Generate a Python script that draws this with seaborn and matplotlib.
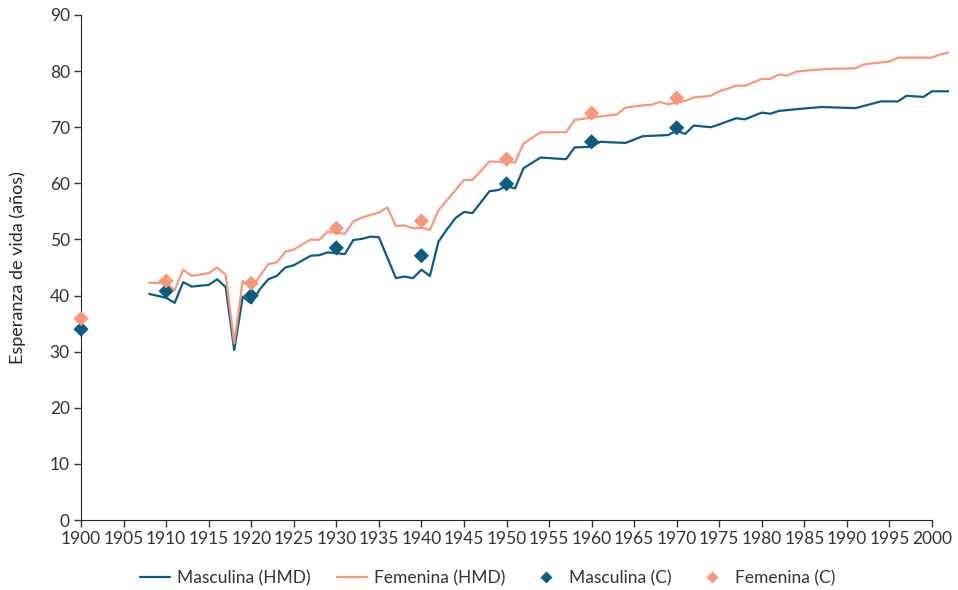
import pandas as pd
import matplotlib.pyplot as plt
import seaborn as sns

# HMD series (years where the line changes direction)
male_years = [1908, 1910, 1911, 1912, 1913, 1915, 1916, 1917, 1918, 1919, 1920, 1921,
              1922, 1923, 1924, 1925, 1927, 1928, 1929, 1931, 1932, 1933, 1934, 1935,
              1937, 1938, 1939, 1940, 1941, 1942, 1943, 1944, 1945, 1946, 1948, 1949,
              1950, 1951, 1952, 1954, 1957, 1958, 1960, 1961, 1964, 1966, 1969, 1970,
              1971, 1972, 1974, 1975, 1977, 1978, 1980, 1981, 1982, 1984, 1987, 1991,
              1994, 1996, 1997, 1999, 2000, 2002]
male_vals = [40.3, 39.6, 38.7, 42.4, 41.6, 41.9, 42.9, 41.5, 30.3, 39.8, 38.6, 41.1,
             42.9, 43.5, 45.0, 45.4, 47.1, 47.2, 47.7, 47.4, 49.9, 50.1, 50.5, 50.4,
             43.1, 43.4, 43.1, 44.6, 43.5, 49.6, 51.8, 53.8, 54.9, 54.7, 58.6, 58.8,
             59.5, 59.1, 62.7, 64.6, 64.3, 66.4, 66.5, 67.4, 67.2, 68.4, 68.6, 69.4,
             68.8, 70.3, 70.0, 70.5, 71.6, 71.4, 72.6, 72.4, 72.9, 73.2, 73.6, 73.4,
             74.6, 74.6, 75.6, 75.4, 76.4, 76.4]

female_years = [1908, 1910, 1911, 1912, 1913, 1915, 1916, 1917, 1918, 1919, 1920, 1922,
                1923, 1924, 1925, 1927, 1928, 1929, 1930, 1931, 1932, 1933, 1935, 1936,
                1937, 1938, 1939, 1940, 1941, 1942, 1945, 1946, 1948, 1951, 1952, 1954,
                1957, 1958, 1959, 1961, 1963, 1964, 1966, 1967, 1968, 1969, 1970, 1971,
                1972, 1974, 1975, 1977, 1978, 1980, 1981, 1982, 1983, 1984, 1986, 1988,
                1991, 1992, 1995, 1996, 2000, 2001, 2002]
female_vals = [42.3, 42.2, 41.0, 44.6, 43.5, 44.0, 45.0, 43.7, 31.5, 42.6, 41.3, 45.6,
               45.9, 47.8, 48.2, 50.0, 49.9, 51.4, 51.2, 51.0, 53.2, 53.9, 54.8, 55.7,
               52.4, 52.5, 52.0, 52.1, 51.7, 55.2, 60.6, 60.6, 63.9, 63.7, 67.1, 69.1,
               69.1, 71.3, 71.5, 71.9, 72.3, 73.5, 73.9, 74.0, 74.5, 74.1, 74.4, 74.7,
               75.3, 75.6, 76.4, 77.4, 77.4, 78.6, 78.6, 79.4, 79.2, 79.9, 80.2, 80.4,
               80.5, 81.2, 81.7, 82.4, 82.4, 83.0, 83.3]

# census-based estimates (C)
census_years = [1900, 1910, 1920, 1930, 1940, 1950, 1960, 1970]
census_male = [34.0, 40.8, 40.0, 48.5, 47.1, 59.9, 67.4, 69.9]
census_female = [35.9, 42.6, 42.2, 52.0, 53.3, 64.3, 72.5, 75.2]

x_ticks = list(range(1900, 2001, 5))
y_ticks = list(range(0, 91, 10))

blue = "#0b5c80"
salmon = "#f7987c"

sns.set_style("ticks")
plt.rcParams['font.family'] = ['Lato', 'DejaVu Sans']
plt.rcParams['text.color'] = '#333333'
plt.rcParams['xtick.color'] = '#333333'
plt.rcParams['ytick.color'] = '#333333'

hmd = pd.concat([
    pd.DataFrame({'year': male_years, 'value': male_vals, 'serie': 'Masculina (HMD)'}),
    pd.DataFrame({'year': female_years, 'value': female_vals, 'serie': 'Femenina (HMD)'}),
])
census = pd.concat([
    pd.DataFrame({'year': census_years, 'value': census_male, 'serie': 'Masculina (C)'}),
    pd.DataFrame({'year': census_years, 'value': census_female, 'serie': 'Femenina (C)'}),
])

fig = plt.figure(figsize=(9.58, 5.9), dpi=100)
ax = fig.add_axes([0.0846, 0.1186, 0.906, 0.856])

sns.lineplot(data=hmd, x='year', y='value', hue='serie',
             palette={'Masculina (HMD)': blue, 'Femenina (HMD)': salmon},
             linewidth=1.6, ax=ax)
sns.scatterplot(data=census, x='year', y='value', hue='serie',
                palette={'Masculina (C)': blue, 'Femenina (C)': salmon},
                marker='D', s=60, edgecolor='none', ax=ax, zorder=3, clip_on=False)

ax.set_xlim(1900, 2002)
ax.set_ylim(0, 90)
ax.set_xticks(x_ticks)
ax.set_yticks(y_ticks)
ax.tick_params(labelsize=12.5, length=5, width=1, pad=3)
ax.spines['bottom'].set_bounds(1900, 2000)
ax.spines['top'].set_visible(False)
ax.spines['right'].set_visible(False)
ax.set_xlabel('')
ax.set_ylabel('Esperanza de vida (años)', fontsize=13, labelpad=17)

handles, labels = ax.get_legend_handles_labels()
ax.legend(handles, labels, loc='upper center', bbox_to_anchor=(0.468, -0.078),
          ncol=4, frameon=False, fontsize=12.5, handlelength=1.75, markerscale=0.8,
          columnspacing=1.5, handletextpad=0.4, borderaxespad=0.2)

fig.savefig('out.png', dpi=100)
